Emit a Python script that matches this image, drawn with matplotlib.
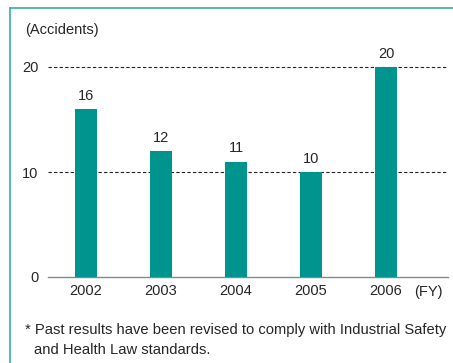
import matplotlib.pyplot as plt
from matplotlib.lines import Line2D

years = ['2002', '2003', '2004', '2005', '2006']
accidents = [16, 12, 11, 10, 20]
y_ticks = [0, 10, 20]

bar_color = '#00948f'
frame_color = '#3aaba7'
text_color = '#262626'

plt.rcParams['font.family'] = ['Liberation Sans', 'DejaVu Sans']

fig = plt.figure(figsize=(4.53, 3.63), dpi=100)
ax = fig.add_axes([48 / 453, 1 - 277 / 363, 400 / 453, 220.5 / 363])

x = range(len(years))
ax.bar(x, accidents, width=0.29, color=bar_color, zorder=3)
for xi, v in zip(x, accidents):
    ax.text(xi, v + 0.6, str(v), ha='center', va='bottom', fontsize=10.5, color=text_color)

ax.set_xlim(-0.507, 4.827)
ax.set_ylim(0, 21)
ax.set_xticks(list(x))
ax.set_xticklabels(years, fontsize=10.5, color=text_color)
ax.set_yticks(y_ticks)
ax.set_yticklabels([str(t) for t in y_ticks], fontsize=10.5, color=text_color)
ax.tick_params(length=0, pad=5)
ax.tick_params(axis='y', pad=7)

for t in y_ticks[1:]:
    ax.axhline(t, color='#222222', lw=0.8, ls=(0, (3, 2)), zorder=1)

for s in ['top', 'right', 'left']:
    ax.spines[s].set_visible(False)
ax.spines['bottom'].set_color('#888888')
ax.spines['bottom'].set_linewidth(1.0)

fig.text(414 / 453, 1 - 292 / 363, '(FY)', fontsize=10.5, color=text_color, va='center')
fig.text(25 / 453, 1 - 30 / 363, '(Accidents)', fontsize=10.5, color=text_color, va='center')
fig.text(25 / 453, 1 - 330 / 363,
         '* Past results have been revised to comply with Industrial Safety',
         fontsize=10.6, color=text_color, va='center')
fig.text(34 / 453, 1 - 350 / 363, 'and Health Law standards.',
         fontsize=10.6, color=text_color, va='center')

# teal frame along top and left
fig.add_artist(Line2D([10 / 453, 1], [1 - 8 / 363, 1 - 8 / 363], color=frame_color, lw=1.2))
fig.add_artist(Line2D([10 / 453, 10 / 453], [0, 1 - 8 / 363], color=frame_color, lw=1.2))

fig.savefig('out.png', dpi=100)
